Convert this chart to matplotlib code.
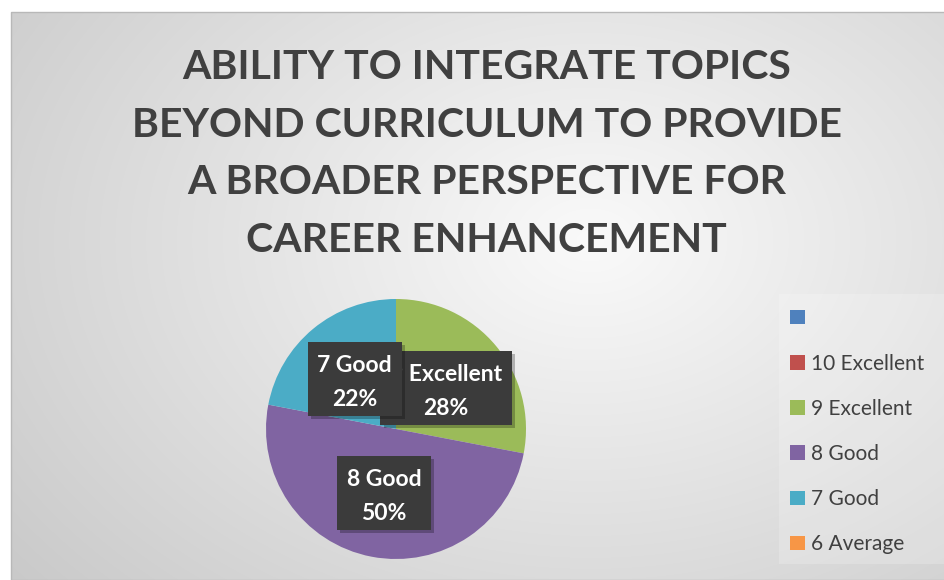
import numpy as np
import matplotlib.pyplot as plt
from matplotlib.patches import Rectangle

plt.rcParams['font.family'] = ['Lato', 'DejaVu Sans']

categories = ['', '10 Excellent', '9 Excellent', '8 Good', '7 Good', '6 Average']
values = [0, 0, 28, 50, 22, 0]
colors = ['#4F81BD', '#C0504D', '#9BBB59', '#8064A2', '#4BACC6', '#F79646']
title = 'ABILITY TO INTEGRATE TOPICS\nBEYOND CURRICULUM TO PROVIDE\nA BROADER PERSPECTIVE FOR\nCAREER ENHANCEMENT'

W, H = 945, 580
fig = plt.figure(figsize=(W / 100, H / 100), dpi=100, facecolor='white')

# radial grey background of the chart area
bg = fig.add_axes([11 / W, 0, (W - 11) / W, (H - 12) / H])
xx, yy = np.meshgrid(np.arange(11, W), np.arange(12, H))
d = np.sqrt(((xx - 590) / 560.0) ** 2 + ((yy - 240) / 400.0) ** 2)
g = 0.98 - 0.2 * np.clip(d / 1.4, 0, 1)
bg.imshow(np.dstack([g, g, g]), aspect='auto', extent=[0, 1, 0, 1], origin='upper')
bg.set_axis_off()
fig.add_artist(Rectangle((11 / W, 0), (W - 11) / W, (H - 12) / H, fill=False,
                         edgecolor='#b8b8b8', lw=1, transform=fig.transFigure))
# light legend panel
fig.add_artist(Rectangle((779 / W, 1 - 564 / H), (W - 779) / W, 270 / H,
                         facecolor='white', alpha=0.2, edgecolor='none',
                         transform=fig.transFigure))

fig.text(0.515, 1 - 154 / H, title, ha='center', va='center', fontsize=29.5,
         fontweight='bold', color='#404040', linespacing=1.68)

# pie
cx, cy, r = 396, 429, 130
ax = fig.add_axes([(cx - r) / W, (H - cy - r) / H, 2 * r / W, 2 * r / H])
wedges, _ = ax.pie(values, colors=colors, startangle=90, counterclock=False,
                   wedgeprops=dict(linewidth=0))
ax.set_xlim(-1, 1)
ax.set_ylim(-1, 1)
ax.set_aspect('equal')

total = sum(values)
order = [2, 4, 3]
for i in order:
    w = wedges[i]
    mid = np.deg2rad((w.theta1 + w.theta2) / 2)
    x, y = 0.5 * np.cos(mid), 0.5 * np.sin(mid)
    txt = '%s\n%d%%' % (categories[i], round(100 * values[i] / total))
    # shadow box, dark box, then the label a touch lower inside it
    ax.text(x + 0.025, y - 0.025, txt, ha='center', va='center', fontsize=16.5,
            fontweight='bold', color='none', linespacing=1.75,
            bbox=dict(boxstyle='square,pad=0.42', facecolor='#000000', alpha=0.25,
                      edgecolor='none'))
    ax.text(x, y, txt, ha='center', va='center', fontsize=16.5, fontweight='bold',
            color='none', linespacing=1.75,
            bbox=dict(boxstyle='square,pad=0.42', facecolor='#3b3b3b', edgecolor='none'))
    ax.text(x, y - 0.03, txt, ha='center', va='center', fontsize=16.5,
            fontweight='bold', color='white', linespacing=1.75)

handles = [Rectangle((0, 0), 1, 1, facecolor=c, edgecolor='none') for c in colors]
leg = fig.legend(handles, categories, loc='upper left',
                 bbox_to_anchor=(782 / W, 1 - 300 / H), frameon=False,
                 fontsize=15, handlelength=0.7, handleheight=0.7,
                 handletextpad=0.3, labelspacing=1.21, borderaxespad=0)
for t in leg.get_texts():
    t.set_color('#404040')

fig.savefig('out.png', dpi=100)
